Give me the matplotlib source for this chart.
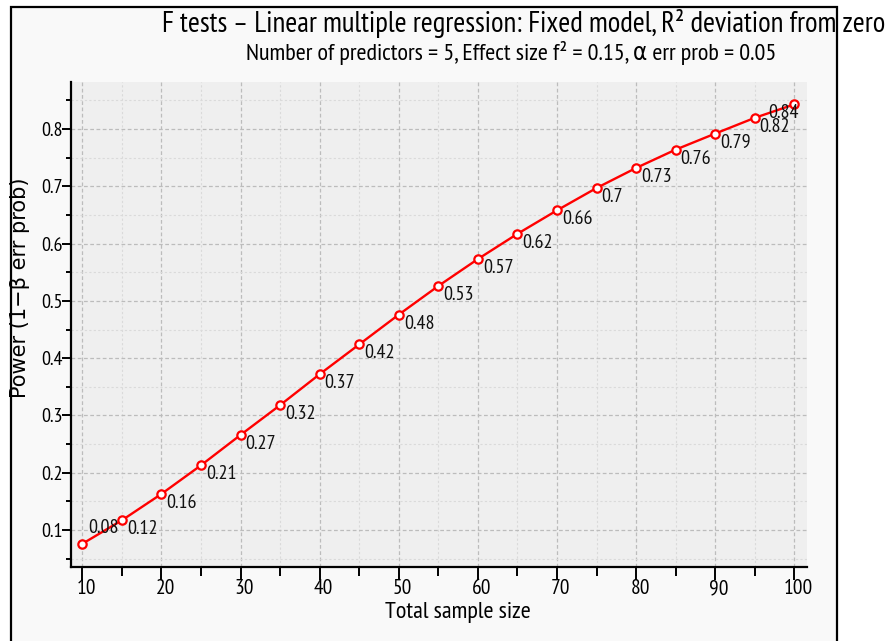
import matplotlib
matplotlib.use("Agg")
import matplotlib.pyplot as plt
import matplotlib.patches as mpatches
import matplotlib.transforms as mtransforms
from matplotlib.ticker import MultipleLocator

# ---- data ----
sample_size = [10, 15, 20, 25, 30, 35, 40, 45, 50, 55, 60, 65, 70, 75, 80, 85, 90, 95, 100]
power = [0.076, 0.117, 0.163, 0.213, 0.266, 0.318, 0.372, 0.424, 0.476, 0.526,
         0.573, 0.617, 0.658, 0.697, 0.732, 0.764, 0.792, 0.8195, 0.843]
power_labels = ["0.08", "0.12", "0.16", "0.21", "0.27", "0.32", "0.37", "0.42", "0.48", "0.53",
                "0.57", "0.62", "0.66", "0.7", "0.73", "0.76", "0.79", "0.82", "0.84"]
x_ticks = [10, 20, 30, 40, 50, 60, 70, 80, 90, 100]
y_ticks = [0.1, 0.2, 0.3, 0.4, 0.5, 0.6, 0.7, 0.8]
title = "F tests \u2013 Linear multiple regression: Fixed model, R\u00b2 deviation from zero"
subtitle = "Number of predictors = 5, Effect size f\u00b2 = 0.15, \u03b1 err prob = 0.05"
xlabel = "Total sample size"
ylabel = "Power (1\u2212\u03b2 err prob)"

plt.rcParams["font.family"] = ["PT Sans Narrow", "DejaVu Sans"]
plt.rcParams["font.stretch"] = "condensed"

W, H = 888, 641
fig = plt.figure(figsize=(W / 100, H / 100), dpi=100, facecolor="white")

# outer frame
frame = mpatches.Rectangle((10.5 / W, -0.05), (837 - 10.5) / W, 1.05 - 7.5 / H,
                           transform=fig.transFigure, facecolor="#f9f9f9",
                           edgecolor="black", linewidth=1.6, zorder=-10)
fig.patches.append(frame)

ax = fig.add_axes([70.7 / W, 1 - 566.7 / H, (806.7 - 70.7) / W, (566.7 - 81.7) / H])
ax.set_zorder(1)
ax.set_facecolor("#efefef")
ax.set_xlim(8.53, 101.57)
ax.set_ylim(0.036, 0.8826)

for s in ["top", "right"]:
    ax.spines[s].set_visible(False)
for s in ["left", "bottom"]:
    ax.spines[s].set_linewidth(1.6)
    ax.spines[s].set_color("black")

ax.set_xticks(x_ticks)
ax.set_yticks(y_ticks)
ax.set_yticklabels([f"{v:g}" for v in y_ticks])
ax.xaxis.set_minor_locator(MultipleLocator(5))
ax.yaxis.set_minor_locator(MultipleLocator(0.05))
ax.tick_params(axis="x", which="major", length=9, width=1.4, direction="out",
               labelsize=15.5, pad=0)
ax.tick_params(axis="x", which="minor", length=6.5, width=1.4, direction="out")
ax.tick_params(axis="y", which="major", length=6.5, width=1.4, direction="out",
               labelsize=14.5, pad=-1)
ax.tick_params(axis="y", which="minor", length=3.6, width=1.4, direction="out")

# shift x tick labels a little to the right like the reference
offset = mtransforms.ScaledTranslation(4 / 100, 0, fig.dpi_scale_trans)
for lab in ax.get_xticklabels():
    lab.set_transform(lab.get_transform() + offset)

ax.grid(which="major", color="#bcbcbc", linestyle=(0, (3, 2)), linewidth=0.9)
ax.grid(which="minor", color="#dadada", linestyle=(0, (2, 2)), linewidth=0.8)
ax.set_axisbelow(True)

ax.plot(sample_size, power, color="red", linewidth=1.7, marker="o",
        markersize=6, markerfacecolor="white", markeredgecolor="red",
        markeredgewidth=1.6, zorder=3, clip_on=False)

n = len(sample_size)
for i, (xv, yv, lab) in enumerate(zip(sample_size, power, power_labels)):
    if i == 0:
        off = (6, 16)
    elif i == n - 1:
        off = (-26, -9)
    else:
        off = (5, -9)
    ax.annotate(lab, (xv, yv), xytext=off, textcoords="offset pixels",
                ha="left", va="center", fontsize=14.5, color="#111111", zorder=4)

fig.text(524 / W, 1 - 32 / H, title, ha="center", va="baseline", fontsize=20.7, color="black")
fig.text(511 / W, 1 - 60 / H, subtitle, ha="center", va="baseline", fontsize=17.5, color="black")
fig.text(458 / W, 1 - 617.7 / H, xlabel, ha="center", va="baseline", fontsize=17.5, color="black")
fig.text(20 / W, 1 - 288 / H, ylabel, ha="center", va="center", rotation=90,
         fontsize=15, color="black", family=["DejaVu Sans"], fontstretch="normal")

fig.savefig("out.png", dpi=100, facecolor=fig.get_facecolor())
